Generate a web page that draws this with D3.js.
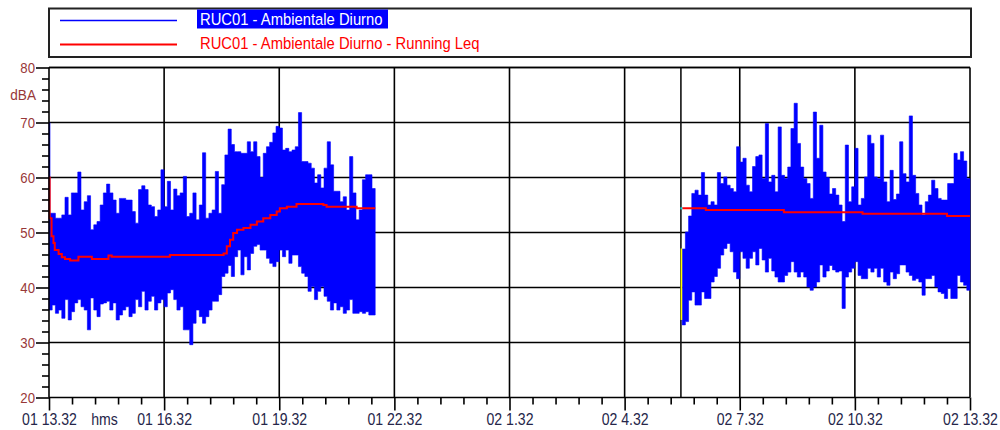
<!DOCTYPE html>
<html>
<head>
<meta charset="utf-8">
<script src="https://cdn.jsdelivr.net/npm/d3@7"></script>
<style>
  html, body { margin: 0; padding: 0; background: #fff; }
  svg { display: block; font-family: "Liberation Sans", Arial, sans-serif; }
</style>
</head>
<body>
<svg id="chart" width="1000" height="430"></svg>
<script>
// ---- Series names -------------------------------------------------------
const legendLabels = [
  "RUC01 - Ambientale Diurno",
  "RUC01 - Ambientale Diurno - Running Leq"
];

// ---- Axes ---------------------------------------------------------------
const axisStart = "01 13:32";
const axisEnd = "02 13:32";
const tickLabels = ["01 13.32", "01 16.32", "01 19.32", "01 22.32", "02 1.32",
                    "02 4.32", "02 7.32", "02 10.32", "02 13.32"];
const timeUnitLabel = "hms";
const yTicks = [20, 30, 40, 50, 60, 70, 80];
const yUnitLabel = "dBA";

// ---- Sound level, 5-minute max / min per interval (dBA) -----------------
const bucketMinutes = 5;
const day1Start = "01 13:32";
const day1Max = [
  53.5, 53.5, 52.6, 52.6, 53.2, 56.4, 53.2, 57.2, 57.2, 61.0,
  54.1, 55.6, 56.7, 50.5, 51.4, 52.0, 55.0, 57.2, 58.8, 57.2,
  55.9, 53.5, 56.2, 56.2, 55.9, 55.9, 53.8, 51.7, 57.8, 58.5,
  57.8, 55.0, 54.7, 52.9, 54.1, 61.4, 54.7, 59.3, 54.1, 57.9,
  56.7, 57.2, 60.2, 52.9, 53.5, 57.2, 52.3, 55.0, 64.5, 52.6,
  53.5, 54.1, 61.1, 53.5, 58.7, 64.1, 68.8, 66.0, 64.7, 64.7,
  64.4, 64.4, 66.5, 64.7, 66.5, 63.8, 60.0, 64.4, 65.6, 66.4,
  68.1, 69.3, 69.0, 65.0, 65.3, 64.7, 65.0, 65.6, 71.8, 62.9,
  62.9, 62.6, 61.7, 59.0, 60.5, 58.1, 61.7, 66.5, 62.3, 57.5,
  57.5, 55.6, 56.5, 54.1, 63.8, 57.2, 52.3, 54.1, 59.6, 60.5,
  60.5, 58.0
];
const day1Min = [
  35.9, 36.8, 35.3, 35.9, 34.4, 37.8, 34.1, 35.6, 37.2, 37.8,
  36.5, 35.9, 32.3, 38.1, 35.9, 34.7, 37.0, 37.2, 37.5, 35.9,
  37.2, 34.1, 35.0, 35.9, 36.5, 34.7, 35.3, 37.8, 36.5, 39.3,
  35.9, 37.5, 38.4, 35.9, 37.2, 37.8, 36.5, 39.0, 39.6, 37.8,
  35.9, 36.5, 32.3, 32.3, 29.6, 33.5, 35.9, 34.7, 33.5, 34.7,
  35.9, 37.5, 37.5, 38.7, 42.0, 42.6, 44.0, 42.0, 45.6, 46.8,
  42.3, 45.6, 43.2, 46.2, 47.5, 47.8, 46.8, 46.8, 45.3, 44.4,
  43.8, 44.7, 46.8, 45.6, 46.8, 44.4, 45.9, 45.9, 43.8, 42.6,
  42.0, 39.3, 40.2, 37.8, 39.3, 40.2, 38.4, 37.5, 35.9, 37.2,
  35.9, 36.5, 35.3, 35.9, 37.8, 35.3, 35.3, 35.6, 35.3, 35.6,
  35.0, 35.0
];
const onsetTime = "01 13:32";
const onsetLevel = 70.0;

const day2Start = "02 06:02";
const day2Max = [
  47.0, 50.1, 53.0, 57.1, 57.7, 56.8, 60.9, 56.8, 55.0, 55.6,
  55.0, 60.9, 58.9, 60.1, 58.6, 58.0, 57.4, 65.6, 62.8, 63.5,
  58.6, 57.4, 62.0, 63.8, 64.1, 59.8, 69.8, 59.2, 60.4, 57.4,
  69.2, 60.4, 59.8, 61.9, 68.9, 73.5, 66.2, 61.9, 59.8, 58.9,
  56.2, 71.9, 63.5, 69.5, 61.0, 60.0, 57.0, 58.0, 56.8, 55.0,
  52.0, 65.9, 55.6, 58.3, 65.3, 55.0, 56.2, 60.1, 67.7, 66.2,
  60.1, 59.8, 67.7, 59.2, 55.6, 61.3, 56.0, 57.0, 66.5, 60.7,
  59.2, 71.2, 60.4, 57.1, 55.0, 53.2, 55.6, 56.8, 59.5, 58.0,
  56.2, 55.9, 55.9, 58.9, 58.9, 64.4, 63.2, 64.7, 63.0, 59.8
];
const day2Min = [
  33.2, 33.8, 37.7, 39.2, 36.8, 36.8, 39.2, 38.0, 38.0, 41.0,
  42.0, 43.5, 45.9, 47.1, 48.0, 46.5, 42.8, 41.6, 46.5, 45.3,
  43.5, 45.3, 46.5, 44.1, 47.1, 45.0, 42.8, 45.3, 43.0, 41.9,
  41.0, 41.0, 42.2, 42.8, 44.7, 42.8, 41.9, 42.8, 41.9, 40.1,
  39.5, 40.1, 41.0, 44.1, 41.9, 43.0, 44.0, 43.2, 42.8, 43.0,
  36.2, 41.9, 42.8, 43.5, 44.7, 42.2, 41.6, 41.6, 43.5, 42.8,
  43.5, 41.9, 43.5, 41.0, 40.4, 42.8, 41.6, 42.5, 44.1, 44.1,
  42.8, 42.2, 41.3, 41.6, 41.0, 38.6, 41.6, 41.6, 42.2, 40.1,
  39.2, 38.9, 38.0, 39.8, 38.0, 38.0, 42.2, 41.0, 40.4, 39.5
];

// ---- Running Leq (dBA), value holds from each time onwards --------------
const leqDay1Times = ["01 13:32", "01 13:33", "01 13:36", "01 13:39", "01 13:41", "01 13:47",
  "01 13:52", "01 13:57", "01 14:05", "01 14:18", "01 14:39", "01 15:05", "01 15:10",
  "01 16:41", "01 18:05", "01 18:10", "01 18:15", "01 18:20", "01 18:26", "01 18:36",
  "01 18:47", "01 18:57", "01 19:07", "01 19:18", "01 19:28", "01 19:33", "01 19:44",
  "01 19:59", "01 20:41", "01 20:46", "01 21:33", "01 22:02"];
const leqDay1Values = [60.0, 52.6, 49.3, 48.1, 46.8, 46.1,
  45.5, 45.2, 44.9, 45.6, 45.2, 45.8, 45.6,
  45.9, 46.2, 47.5, 48.7, 49.9, 50.5, 50.8,
  51.4, 52.0, 52.6, 53.2, 53.8, 54.4, 54.7,
  55.2, 55.0, 54.7, 54.4, 54.4];
const leqDay2Times = ["02 06:02", "02 06:39", "02 08:41", "02 10:44", "02 12:56", "02 13:32"];
const leqDay2Values = [54.4, 54.1, 53.7, 53.4, 53.0, 53.0];

// ---- Restart of the measurement and its markers ---------------------------
const restartTime = "02 06:00";
const restartBand = [34.1, 47.1];
const restartPoint = 54.4;

// ---------------------------------------------------------------------------
const parse = d3.timeParse("%d %H:%M");
const svg = d3.select("#chart");
const plot = { left: 49, right: 970, top: 67.5, bottom: 397.5 };

const x = d3.scaleTime()
  .domain([parse(axisStart), parse(axisEnd)])
  .range([plot.left, plot.right]);
const y = d3.scaleLinear()
  .domain(d3.extent(yTicks))
  .range([plot.bottom, plot.top]);

const STRETCH = 1.16;
const gridColor = "#000";
const gridWidth = 1.6;

// grid
const grid = svg.append("g");
const t0 = parse(axisStart);
const majorTimes = tickLabels.map((_, i) => d3.timeHour.offset(t0, 3 * i));
const minorTimes = d3.range(0, 41)
  .filter(i => i % 5 !== 0)
  .map(i => d3.timeMinute.offset(t0, 36 * i));

grid.selectAll("line.h")
  .data(yTicks.filter(v => v > d3.min(yTicks)))
  .join("line")
  .attr("x1", plot.left).attr("x2", x(parse(axisEnd)))
  .attr("y1", d => y(d)).attr("y2", d => y(d))
  .attr("stroke", gridColor).attr("stroke-width", gridWidth);

grid.selectAll("line.v")
  .data(majorTimes.slice(1))
  .join("line")
  .attr("x1", d => x(d)).attr("x2", d => x(d))
  .attr("y1", y(d3.max(yTicks))).attr("y2", y(d3.min(yTicks)))
  .attr("stroke", gridColor).attr("stroke-width", gridWidth);

// restart marker line
grid.append("line")
  .attr("x1", x(parse(restartTime))).attr("x2", x(parse(restartTime)))
  .attr("y1", y(d3.max(yTicks))).attr("y2", y(d3.min(yTicks)))
  .attr("stroke", "#111").attr("stroke-width", 1.6);

// level envelope as stepped band
function bands(start, maxs, mins) {
  const s = parse(start);
  const pts = maxs.map((hi, i) => ({
    t: d3.timeMinute.offset(s, bucketMinutes * i), hi, lo: mins[i]
  }));
  const last = pts[pts.length - 1];
  pts.push({ t: d3.timeMinute.offset(s, bucketMinutes * maxs.length), hi: last.hi, lo: last.lo });
  return pts;
}
const area = d3.area()
  .curve(d3.curveStepAfter)
  .x(d => x(d.t))
  .y0(d => y(d.lo))
  .y1(d => y(d.hi));

const dataG = svg.append("g");
[[day1Start, day1Max, day1Min], [day2Start, day2Max, day2Min]].forEach(([s, hi, lo]) => {
  dataG.append("path")
    .datum(bands(s, hi, lo))
    .attr("d", area)
    .attr("fill", "#0000ff")
    .attr("stroke", "#0000ff")
    .attr("stroke-width", 0.6);
});

// first reading spike
dataG.append("line")
  .attr("x1", x(parse(onsetTime)) + 0.5).attr("x2", x(parse(onsetTime)) + 0.5)
  .attr("y1", y(onsetLevel)).attr("y2", y(day1Max[0]))
  .attr("stroke", "#0000ff").attr("stroke-width", 1.6);

// restart markers
dataG.append("line")
  .attr("x1", x(parse(restartTime)) + 0.5).attr("x2", x(parse(restartTime)) + 0.5)
  .attr("y1", y(restartBand[1])).attr("y2", y(restartBand[0]))
  .attr("stroke", "#ffff00").attr("stroke-width", 1.6);

// running Leq
const leqLine = d3.line()
  .curve(d3.curveStepAfter)
  .x(d => x(d.t))
  .y(d => y(d.v));
[[leqDay1Times, leqDay1Values], [leqDay2Times, leqDay2Values]].forEach(([ts, vs]) => {
  dataG.append("path")
    .datum(ts.map((t, i) => ({ t: parse(t), v: vs[i] })))
    .attr("d", leqLine)
    .attr("fill", "none")
    .attr("stroke", "#ff0000")
    .attr("stroke-width", 2);
});
dataG.append("rect")
  .attr("x", x(parse(restartTime)) - 0.5).attr("y", y(restartPoint) - 1)
  .attr("width", 2).attr("height", 2)
  .attr("fill", "#00e0e0");

// frame
svg.append("line")
  .attr("x1", plot.left).attr("x2", plot.right)
  .attr("y1", y(d3.max(yTicks))).attr("y2", y(d3.max(yTicks)))
  .attr("stroke", "#000").attr("stroke-width", gridWidth);
svg.append("line")
  .attr("x1", plot.left).attr("x2", plot.right)
  .attr("y1", plot.bottom).attr("y2", plot.bottom)
  .attr("stroke", "#000").attr("stroke-width", gridWidth);
svg.append("line")
  .attr("x1", plot.left).attr("x2", plot.left)
  .attr("y1", plot.top).attr("y2", plot.bottom)
  .attr("stroke", "#000").attr("stroke-width", gridWidth);

// x axis
const xLabelColor = "#26264a";
const gxMinor = svg.append("g").attr("transform", `translate(0,${plot.bottom})`)
  .call(d3.axisBottom(x).tickValues(minorTimes).tickSize(7).tickFormat(""));
const gx = svg.append("g").attr("transform", `translate(0,${plot.bottom})`)
  .call(d3.axisBottom(x).tickValues(majorTimes).tickSize(13).tickFormat((d, i) => tickLabels[i]));
[gxMinor, gx].forEach(g => {
  g.select(".domain").remove();
  g.selectAll(".tick line").attr("stroke", "#000").attr("stroke-width", gridWidth);
});
gx.selectAll(".tick text")
  .attr("y", null).attr("dy", null)
  .attr("transform", `translate(0,${425 - plot.bottom}) scale(1,${STRETCH})`)
  .attr("fill", xLabelColor)
  .style("font-size", "14.1px")
  .style("font-family", "'Liberation Sans', Arial, sans-serif");
svg.append("text")
  .attr("transform", `translate(104.5,425) scale(1,${STRETCH})`)
  .attr("text-anchor", "middle")
  .attr("fill", xLabelColor)
  .style("font-size", "14.1px")
  .text(timeUnitLabel);

// y axis
const yLabelColor = "#983838";
const minorY = d3.range(d3.min(yTicks), d3.max(yTicks) + 1, 2).filter(v => v % 10 !== 0);
const gyMinor = svg.append("g").attr("transform", `translate(${plot.left},0)`)
  .call(d3.axisLeft(y).tickValues(minorY).tickSize(7).tickFormat(""));
const gy = svg.append("g").attr("transform", `translate(${plot.left},0)`)
  .call(d3.axisLeft(y).tickValues(yTicks).tickSize(13).tickPadding(1).tickFormat(d => d));
[gyMinor, gy].forEach(g => {
  g.select(".domain").remove();
  g.selectAll(".tick line").attr("stroke", "#000").attr("stroke-width", gridWidth);
});
gy.selectAll(".tick text")
  .attr("dy", null).attr("x", null)
  .attr("transform", `translate(-14,5) scale(1,1.08)`)
  .attr("fill", yLabelColor)
  .style("font-size", "13.2px")
  .style("font-family", "'Liberation Sans', Arial, sans-serif");
svg.append("text")
  .attr("transform", `translate(36,100) scale(1,1.05)`)
  .attr("text-anchor", "end")
  .attr("fill", yLabelColor)
  .style("font-size", "13.6px")
  .text(yUnitLabel);

// legend
const legend = svg.append("g");
legend.append("rect")
  .attr("x", 49).attr("y", 8.5).attr("width", 922).attr("height", 48.5)
  .attr("fill", "#fff").attr("stroke", "#222").attr("stroke-width", 2);
const legendColors = ["#0000ff", "#ff0000"];
legendLabels.forEach((label, i) => {
  const ly = 20.5 + 24 * i;
  legend.append("line")
    .attr("x1", 60).attr("x2", 177).attr("y1", ly).attr("y2", ly)
    .attr("stroke", legendColors[i]).attr("stroke-width", i === 0 ? 1.6 : 2);
  if (i === 0) {
    legend.append("rect")
      .attr("x", 197).attr("y", 9.5).attr("width", 191).attr("height", 19)
      .attr("fill", "#0000ff");
  }
  legend.append("text")
    .attr("transform", `translate(200,${24.5 + 24.5 * i}) scale(1,${STRETCH})`)
    .attr("fill", i === 0 ? "#fff" : "#ff0000")
    .style("font-size", "14.8px")
    .text(label);
});
</script>
</body>
</html>
